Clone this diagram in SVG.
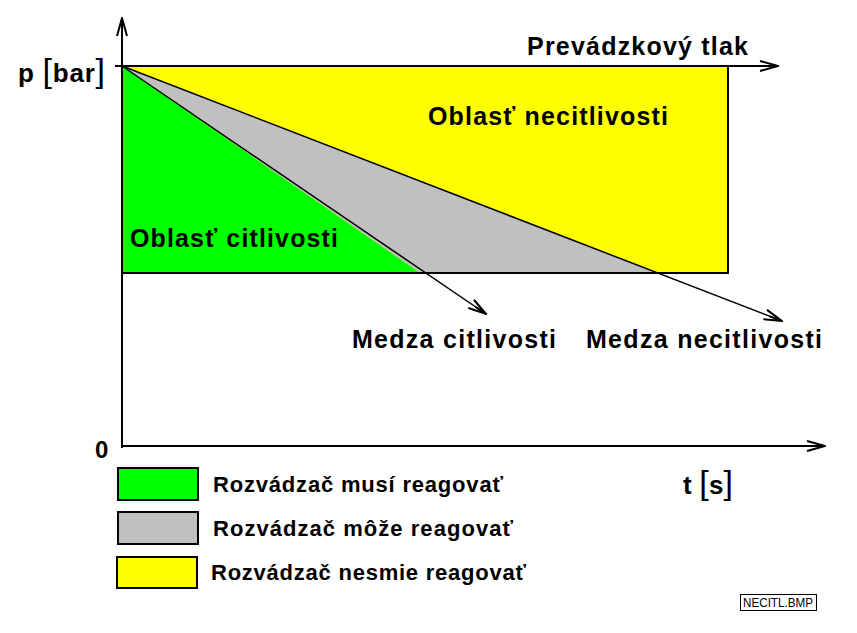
<svg xmlns="http://www.w3.org/2000/svg" width="857" height="633" viewBox="0 0 857 633">
<defs>
<style>
.t{font-family:"Liberation Sans",Arial,sans-serif;font-weight:bold;fill:#000}
.ln{stroke:#000;stroke-width:2;fill:none}
.thin{stroke:#000;stroke-width:1.5;fill:none}
</style>
<marker id="ah" viewBox="0 0 20 12" refX="19" refY="6" markerWidth="20" markerHeight="12" markerUnits="userSpaceOnUse" orient="auto">
<path d="M1,1 L19,6 L1,11 M6,6 L19,6" fill="none" stroke="#000" stroke-width="2"/>
</marker>
</defs>
<rect width="857" height="633" fill="#fff"/>
<g id="regions">
<rect id="yellow-area" x="122" y="66" width="606" height="207" fill="#ffff00" stroke="#000" stroke-width="2"/>
<polygon id="grey-area" points="122,66 658,273 420,273" fill="#c0c0c0"/>
<polygon id="green-area" points="122,66 122,273 420,273" fill="#00ff00"/>
<line x1="122" y1="273" x2="728" y2="273" class="ln"/>
</g>
<g id="connectors">
<line id="y-axis" x1="122" y1="448" x2="122" y2="18" class="ln" marker-end="url(#ah)"/>
<line id="x-axis" x1="122" y1="446" x2="825" y2="446" class="ln" marker-end="url(#ah)"/>
<line id="op-pressure" x1="115" y1="66" x2="778" y2="66" class="ln" marker-end="url(#ah)"/>
<line id="medza-citl" x1="122" y1="66" x2="486" y2="314" class="thin" marker-end="url(#ah)"/>
<line id="medza-necitl" x1="122" y1="66" x2="782" y2="321" class="thin" marker-end="url(#ah)"/>
</g>
<g id="labels">
<text class="t" x="18" y="82" font-size="26" textLength="87" lengthAdjust="spacing">p <tspan font-size="34" font-weight="normal">[</tspan>bar<tspan font-size="34" font-weight="normal">]</tspan></text>
<text class="t" x="527" y="55" font-size="25" textLength="221" lengthAdjust="spacing">Prevádzkový tlak</text>
<text class="t" x="428" y="125" font-size="25" textLength="240" lengthAdjust="spacing">Oblasť necitlivosti</text>
<text class="t" x="130" y="247" font-size="25" textLength="208" lengthAdjust="spacing">Oblasť citlivosti</text>
<text class="t" x="352" y="348" font-size="25" textLength="204" lengthAdjust="spacing">Medza citlivosti</text>
<text class="t" x="586" y="348" font-size="25" textLength="236" lengthAdjust="spacing">Medza necitlivosti</text>
<text class="t" x="95" y="458" font-size="24">0</text>
<text class="t" x="683" y="494" font-size="26" textLength="50" lengthAdjust="spacing">t <tspan font-size="34" font-weight="normal">[</tspan>s<tspan font-size="34" font-weight="normal">]</tspan></text>
</g>
<g id="legend">
<g id="legend-green">
<rect x="118" y="468" width="80" height="32" fill="#00ff00" stroke="#000" stroke-width="2"/>
<text class="t" x="213" y="492" font-size="22" textLength="290" lengthAdjust="spacing">Rozvádzač musí reagovať</text>
</g>
<g id="legend-grey">
<rect x="118" y="512" width="80" height="32" fill="#c0c0c0" stroke="#000" stroke-width="2"/>
<text class="t" x="213" y="536" font-size="22" textLength="300" lengthAdjust="spacing">Rozvádzač môže reagovať</text>
</g>
<g id="legend-yellow">
<rect x="117" y="557" width="80" height="31" fill="#ffff00" stroke="#000" stroke-width="2"/>
<text class="t" x="211" y="580" font-size="22" textLength="315" lengthAdjust="spacing">Rozvádzač nesmie reagovať</text>
</g>
</g>
<g id="filename">
<rect x="740.5" y="594.5" width="76" height="16" fill="#fff" stroke="#000" stroke-width="1"/>
<text x="743" y="607" font-family="Liberation Sans Narrow,Liberation Sans,Arial,sans-serif" font-size="12" textLength="70" lengthAdjust="spacingAndGlyphs" fill="#000">NECITL.BMP</text>
</g>
</svg>
